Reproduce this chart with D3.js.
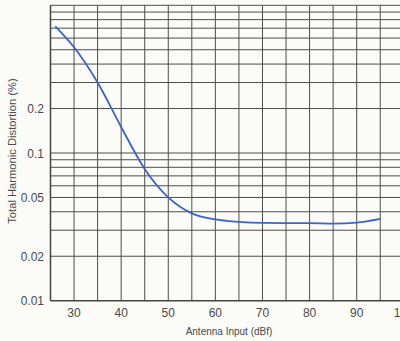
<html>
<head>
<script src="https://d3js.org/d3.v7.min.js"></script>
<style>
  body { margin: 0; background: #fbfbf8; }
  text { font-family: "Liberation Sans", Arial, sans-serif; fill: #4a4a4a; }
</style>
</head>
<body>
<script>
  // antenna input (dBf) vs total harmonic distortion (%)
  let inputDbf = [26, 30, 35, 40, 45, 50, 55, 60, 65, 70, 75, 80, 85, 90, 95];
  let thdPct   = [0.72, 0.52, 0.30, 0.15, 0.078, 0.05, 0.039, 0.0355, 0.0342, 0.0336, 0.0335, 0.0335, 0.0333, 0.0338, 0.0358];

  let xTicks = [30, 40, 50, 60, 70, 80, 90, 100];
  let yTicks = [0.01, 0.02, 0.05, 0.1, 0.2];

  let width = 400, height = 341;

  let x = d3.scaleLinear().domain([25, 100]).range([50.5, 403.8]);
  let y = d3.scaleLog().domain([0.01, 1]).range([300.7, 5.3]);

  let svg = d3.select("body").append("svg")
      .attr("width", width)
      .attr("height", height);

  // vertical grid every 5 dBf
  let xGrid = d3.range(30, 101, 5);
  svg.append("g").selectAll("line")
    .data(xGrid)
    .join("line")
    .attr("x1", d => x(d)).attr("x2", d => x(d))
    .attr("y1", y(1)).attr("y2", y(0.01))
    .attr("stroke", "#4d4d4d")
    .attr("stroke-width", 1);

  // horizontal log grid 1-2-3..9
  let yGrid = [];
  [0.01, 0.1].forEach(dec => {
    for (let k = 2; k <= 10; k++) yGrid.push(dec * k);
  });
  svg.append("g").selectAll("line")
    .data(yGrid)
    .join("line")
    .attr("x1", x(25)).attr("x2", width + 10)
    .attr("y1", d => y(d)).attr("y2", d => y(d))
    .attr("stroke", "#4d4d4d")
    .attr("stroke-width", 1);

  // axes lines
  svg.append("line")
    .attr("x1", x(25)).attr("x2", x(25))
    .attr("y1", y(1)).attr("y2", y(0.01))
    .attr("stroke", "#444").attr("stroke-width", 1.5);
  svg.append("line")
    .attr("x1", x(25)).attr("x2", width + 10)
    .attr("y1", y(0.01)).attr("y2", y(0.01))
    .attr("stroke", "#444").attr("stroke-width", 1.5);

  // tick labels
  svg.append("g").selectAll("text")
    .data(xTicks)
    .join("text")
    .attr("x", d => x(d))
    .attr("y", 317)
    .attr("text-anchor", "middle")
    .attr("font-size", 12)
    .text(d => d);

  svg.append("g").selectAll("text")
    .data(yTicks)
    .join("text")
    .attr("x", 44)
    .attr("y", d => y(d))
    .attr("dy", "0.38em")
    .attr("text-anchor", "end")
    .attr("font-size", 12)
    .text(d => d);

  // axis titles
  svg.append("text")
    .attr("x", 229)
    .attr("y", 335)
    .attr("text-anchor", "middle")
    .attr("font-size", 10)
    .text("Antenna Input (dBf)");

  svg.append("text")
    .attr("transform", "translate(16,151) rotate(-90)")
    .attr("text-anchor", "middle")
    .attr("font-size", 11.2)
    .text("Total Harmonic Distortion (%)");

  // the curve
  let pts = inputDbf.map((d, i) => [d, thdPct[i]]);
  let line = d3.line()
      .x(d => x(d[0]))
      .y(d => y(d[1]))
      .curve(d3.curveMonotoneX);

  svg.append("path")
    .datum(pts)
    .attr("d", line)
    .attr("fill", "none")
    .attr("stroke", "#3c63c9")
    .attr("stroke-width", 1.8);
</script>
</body>
</html>
